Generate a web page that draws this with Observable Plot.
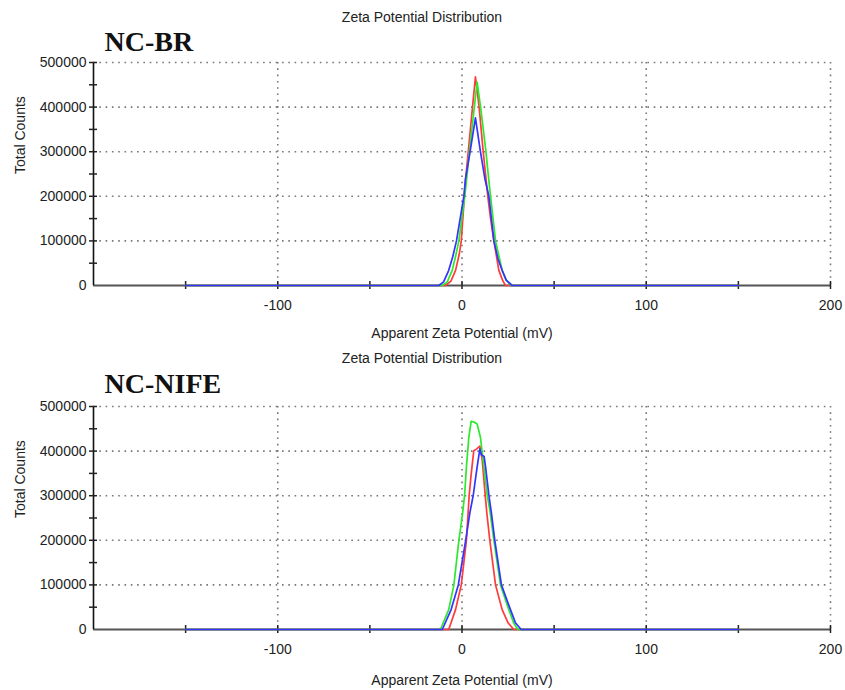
<!DOCTYPE html>
<html>
<head>
<meta charset="utf-8">
<script src="https://cdn.jsdelivr.net/npm/d3@7"></script>
<script src="https://cdn.jsdelivr.net/npm/@observablehq/plot@0.6"></script>
<style>
  html, body { margin: 0; padding: 0; background: #fff; }
  svg { display: block; }
</style>
</head>
<body>
<div id="chart"></div>
<script>
// ---- axes / ticks ----
const xDomain = [-200, 200];
const yDomain = [0, 500000];
const xTickLabels = [-100, 0, 100, 200];
const xTickMarks = [-150, -100, -50, 0, 50, 100, 150, 200];
const yTickLabels = [0, 100000, 200000, 300000, 400000, 500000];
const yTickMarks = [50000, 100000, 150000, 200000, 250000, 300000, 350000, 400000, 450000, 500000];
const xGrid = [-100, 0, 100, 200];
const yGrid = [100000, 200000, 300000, 400000, 500000];

const chartTitle = "Zeta Potential Distribution";
const xLabel = "Apparent Zeta Potential (mV)";
const yLabel = "Total Counts";
const sampleNames = ["NC-BR", "NC-NIFE"];
const seriesColors = ["#ff3b3b", "#2ee82e", "#3434ff"];

// ---- NC-BR (top) ----
const brRedX = [-150, -9, -6, -3.5, -1.5, -0.4, 1.3, 2.0, 3.4, 5.7, 7.3, 9.3, 11.5, 13.0, 14.0, 15.5, 17.3, 20.0, 22.0, 23.6, 150];
const brRedY = [0, 0, 10000, 34000, 70000, 100000, 200000, 240000, 300000, 400000, 468000, 400000, 300000, 240000, 200000, 150000, 100000, 34000, 12000, 0, 0];
const brGreenX = [-150, -10.7, -8, -5.3, -3.5, -1.7, 1.5, 2.3, 4.0, 6.7, 8.2, 10.1, 13.0, 14.0, 15.5, 18.2, 21.8, 24.0, 26.5, 150];
const brGreenY = [0, 0, 8000, 34000, 65000, 100000, 200000, 230000, 300000, 400000, 456000, 400000, 300000, 258000, 200000, 100000, 34000, 12000, 0, 0];
const brBlueX = [-150, -12.6, -10, -7.2, -5, -3.0, -1, 1.0, 1.9, 4.4, 7.3, 10.0, 12.4, 14.6, 17.3, 19.5, 21.8, 24.0, 27.2, 150];
const brBlueY = [0, 0, 8000, 34000, 65000, 100000, 150000, 200000, 239000, 300000, 376000, 300000, 240000, 200000, 100000, 60000, 34000, 12000, 0, 0];

// ---- NC-NIFE (bottom) ----
const nfRedX = [-150, -7.2, -3.5, -0.4, 2.4, 3.2, 3.9, 5.0, 6.4, 8.0, 9.7, 11.0, 12.6, 13.5, 15.1, 18.2, 21.8, 25.0, 28.1, 150];
const nfRedY = [0, 0, 44600, 100000, 200000, 253000, 301000, 349000, 401000, 405000, 411000, 379000, 301000, 260000, 200000, 100000, 44600, 15000, 0, 0];
const nfGreenX = [-150, -11.7, -7.2, -4.4, -1.7, 0.3, 1.4, 2.4, 3.7, 5.0, 6.5, 8.2, 10.0, 11.9, 13.7, 15.1, 17.3, 20.9, 25.4, 28.0, 30.3, 150];
const nfGreenY = [0, 0, 44600, 100000, 200000, 260000, 301000, 364000, 431000, 467000, 465000, 461000, 431000, 364000, 301000, 268000, 200000, 100000, 44600, 15000, 0, 0];
const nfBlueX = [-150, -10.7, -5.9, -2.0, 2.0, 4.2, 6.1, 8.2, 9.7, 10.5, 12.0, 12.8, 14.6, 16.0, 17.8, 21.4, 26.3, 29.0, 32.1, 150];
const nfBlueY = [0, 0, 44600, 100000, 200000, 260000, 301000, 364000, 405000, 392000, 388000, 364000, 301000, 260000, 200000, 100000, 44600, 15000, 0, 0];

const toRows = (xs, ys) => xs.map((x, i) => ({x, y: ys[i]}));
const plainNum = (d) => String(d);

function panel(name, seriesXY, marginTop, titleY, nameY, xLabelY) {
  const fam = "'Liberation Sans', Arial, sans-serif";
  const frameBottom = marginTop + 223;
  const lines = seriesXY.map(([xs, ys], k) =>
    Plot.line(toRows(xs, ys), {x: "x", y: "y", stroke: seriesColors[k], strokeWidth: 1.7})
  );
  return Plot.plot({
    width: 845,
    height: 345,
    marginTop,
    marginBottom: 345 - frameBottom,
    marginLeft: 93,
    marginRight: 15,
    style: {fontFamily: fam, fontSize: "14px", color: "#222", background: "#fff", overflow: "visible"},
    x: {domain: xDomain},
    y: {domain: yDomain},
    marks: [
      Plot.gridX(xGrid, {stroke: "#777", strokeOpacity: 1, strokeWidth: 1.6, strokeDasharray: "1.6,4.7"}),
      Plot.gridY(yGrid, {stroke: "#777", strokeOpacity: 1, strokeWidth: 1.6, strokeDasharray: "1.6,4.7"}),
      Plot.ruleY([0], {stroke: "#555", strokeWidth: 2.2}),
      Plot.ruleX([-200], {stroke: "#111", strokeWidth: 1.6}),
      Plot.ruleX(xTickMarks, {y1: 0, y2: 0, insetTop: -4, insetBottom: -4, stroke: "#222", strokeWidth: 1.5}),
      Plot.ruleY(yTickMarks, {x1: -200, x2: -200, insetLeft: -4, insetRight: -4, stroke: "#222", strokeWidth: 1.5}),
      ...lines,
      Plot.axisY(yTickLabels, {tickSize: 0, tickPadding: 7, tickFormat: plainNum, fontSize: 14, label: null}),
      Plot.axisX(xTickLabels, {tickSize: 0, tickPadding: 15, tickFormat: plainNum, fontSize: 14, label: null}),
      Plot.text([yLabel], {frameAnchor: "left", dx: -73, rotate: -90, fontSize: 14, fill: "#222", lineAnchor: "middle"}),
      Plot.text([xLabel], {frameAnchor: "bottom", dy: xLabelY - frameBottom, fontSize: 14, fill: "#222", lineAnchor: "middle"}),
      Plot.text([chartTitle], {frameAnchor: "top", dy: titleY - marginTop, dx: -40, fontSize: 14, fill: "#222", lineAnchor: "middle"}),
      Plot.text([name], {frameAnchor: "top-left", textAnchor: "start", lineAnchor: "middle", dx: 11, dy: nameY - marginTop, fontSize: 28, fontWeight: "bold", fontFamily: "'Liberation Serif', 'Times New Roman', serif", fill: "#111"})
    ]
  });
}

const root = document.getElementById("chart");
root.appendChild(panel(sampleNames[0], [[brRedX, brRedY], [brGreenX, brGreenY], [brBlueX, brBlueY]], 62, 17, 42, 333));
root.appendChild(panel(sampleNames[1], [[nfRedX, nfRedY], [nfGreenX, nfGreenY], [nfBlueX, nfBlueY]], 61, 13, 39, 335));
</script>
</body>
</html>
